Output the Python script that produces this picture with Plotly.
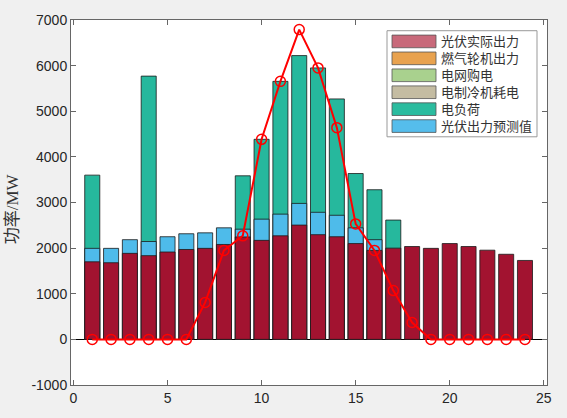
import plotly.graph_objects as go

# 数据
hours = list(range(1, 25))
pv_actual = [1700, 1680, 1885, 1835, 1915, 1970, 1995, 2080, 2245, 2170, 2270, 2505,
             2295, 2250, 2100, 1950, 2000, 2035, 1995, 2100, 2035, 1955, 1865, 1730]
pv_forecast = [1995, 1995, 2185, 2145, 2250, 2315, 2335, 2445, 2415, 2635, 2745, 2980,
               2785, 2720, 2445, 2185, None, None, None, None, None, None, None, None]
load = [3600, None, None, 5770, None, None, None, None, 3585, 4385, 5655, 6220,
        5950, 5270, 3635, 3280, 2615, None, None, None, None, None, None, None]
line_vals = [0, 0, 0, 0, 0, 0, 810, 1950, 2270, 4385, 5655, 6790,
             5950, 4640, 2530, 1950, 1070, 370, 0, 0, 0, 0, 0, 0]

y_ticks = [-1000, 0, 1000, 2000, 3000, 4000, 5000, 6000, 7000]
y_ticktext = ["-1000", "0", "1000", "2000", "3000", "4000", "5000", "6000", "7000"]
x_ticks = [0, 5, 10, 15, 20, 25]

legend_names = ["光伏实际出力", "燃气轮机出力", "电网购电", "电制冷机耗电", "电负荷", "光伏出力预测值"]
legend_colors = ["#c8697a", "#e8a24f", "#a9d18e", "#c4bca2", "#2bbc9f", "#55bdec"]

W, H = 567, 418
L, R, T, B = 71, 20, 15, 28
pw, ph = W - L - R, H - T - B


def px_x(x):
    return (x - L) / pw


def px_y(y):
    return (H - B - y) / ph


fig = go.Figure()

# 柱状图叠放：先画最高的电负荷，再画预测值，最后画实际出力
bar_line = dict(color="#1a1a1a", width=0.8)
fig.add_trace(go.Bar(x=hours, y=load, width=0.8, marker=dict(color="#26b89d", line=bar_line),
                     name="电负荷", showlegend=False))
fig.add_trace(go.Bar(x=hours, y=pv_forecast, width=0.8, marker=dict(color="#4ebbea", line=bar_line),
                     name="光伏出力预测值", showlegend=False))
fig.add_trace(go.Bar(x=hours, y=pv_actual, width=0.8, marker=dict(color="#a21330", line=bar_line),
                     name="光伏实际出力", showlegend=False))
fig.add_trace(go.Scatter(x=hours, y=line_vals, mode="lines+markers",
                         line=dict(color="#ff0000", width=2),
                         marker=dict(symbol="circle-open", size=10, color="#ff0000", line=dict(width=1.5)),
                         showlegend=False))

# 图例（手绘，模仿 MATLAB 样式）
step = 17.4
shapes = [dict(type="rect", xref="paper", yref="paper",
               x0=px_x(387), x1=px_x(537), y0=px_y(135), y1=px_y(26),
               line=dict(color="#999999", width=1), fillcolor="white", layer="above")]
annotations = []
for i, (name, col) in enumerate(zip(legend_names, legend_colors)):
    cy = 37 + i * step
    shapes.append(dict(type="rect", xref="paper", yref="paper",
                       x0=px_x(392), x1=px_x(436), y0=px_y(cy + 6.5), y1=px_y(cy - 6.5),
                       line=dict(color="#555555", width=0.8), fillcolor=col, layer="above"))
    annotations.append(dict(x=px_x(440), y=px_y(cy), xref="paper", yref="paper",
                            text=name, showarrow=False, xanchor="left", yanchor="middle",
                            borderpad=0,
                            font=dict(family="Liberation Serif, Noto Sans CJK SC", size=13,
                                      color="#333333")))

annotations.append(dict(x=px_x(12.5), y=px_y(209), xref="paper", yref="paper",
                        text="功率/MW", textangle=-90, showarrow=False,
                        xanchor="center", yanchor="middle",
                        font=dict(family="Liberation Serif, Noto Sans CJK SC", size=17, color="#333333")))

fig.update_layout(
    width=W, height=H,
    margin=dict(l=L, r=R, t=T, b=B),
    paper_bgcolor="#f0f0f0",
    plot_bgcolor="white",
    barmode="overlay",
    shapes=shapes,
    annotations=annotations,
    font=dict(family="Liberation Sans, Arial", size=14, color="#262626"),
)
fig.update_xaxes(range=[-0.13, 25.17], tickvals=x_ticks,
                 showgrid=False, zeroline=False, showline=True, linecolor="#666666",
                 mirror="ticks", ticks="inside", ticklen=5, tickcolor="#666666")
fig.update_yaxes(range=[-1000, 7000], tickvals=y_ticks, ticktext=y_ticktext,
                 showgrid=False, zeroline=True, zerolinecolor="#000000", zerolinewidth=1,
                 showline=True, linecolor="#666666",
                 mirror="ticks", ticks="inside", ticklen=5, tickcolor="#666666")

fig.write_html("out.html", config={"displayModeBar": False},
               post_script="document.body.style.margin='0';document.body.style.background='#f0f0f0';")
